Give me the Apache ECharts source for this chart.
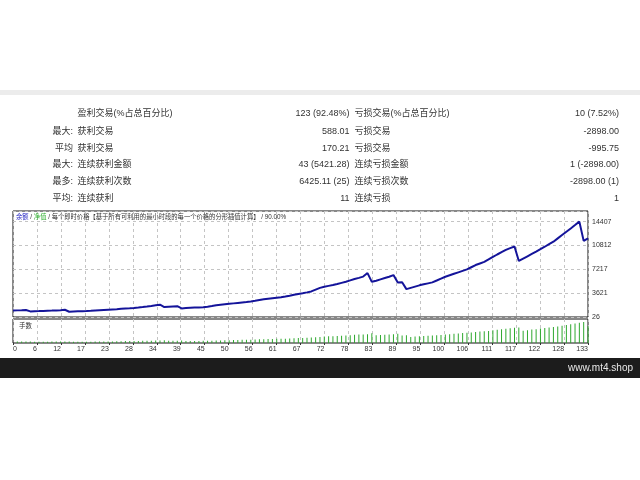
<!DOCTYPE html>
<html><head><meta charset="utf-8">
<script src="https://cdn.jsdelivr.net/npm/echarts@6/dist/echarts.min.js"></script>
<style>
html,body{margin:0;padding:0;background:#fff;}
#c{width:640px;height:480px;background:linear-gradient(to bottom,#ffffff 0px,#ffffff 90px,#ececec 90px,#ececec 95px,#ffffff 95px,#ffffff 358px,#1c1c1c 358px,#1c1c1c 378px,#ffffff 378px);}
</style></head><body>
<div id="c"></div>
<script>
// ---- data ----
const xTickLabels = [0,6,12,17,23,28,34,39,45,50,56,61,67,72,78,83,89,95,100,106,111,117,122,128,133];
const yTickLabels = [26,3621,7217,10812,14407];
// balance after each trade (index = trade number, 0 = start)
const balance = [1000,1025,1050,1077,870,895,915,940,965,990,1020,1050,1120,820,850,880,905,935,970,1010,
1050,1090,1130,1170,1210,1255,1300,1345,1400,1460,1530,1610,1700,1800,1880,1530,1570,1610,1650,1320,
1370,1410,1440,1470,1500,1580,1680,1800,1870,1940,2010,2080,2150,2220,2290,2370,2470,2580,2690,2770,
2850,2930,3010,3120,3240,3370,3490,3610,3740,3880,4150,4420,4600,4720,4840,4990,5170,5350,5550,5750,
5930,6120,6650,5330,5500,5700,5900,6100,6350,5220,5260,4230,4420,4610,4800,4950,5100,5250,5530,5820,
6100,6320,6540,6760,6980,7200,7530,7860,8100,8330,8700,9080,9450,9800,10150,10420,10650,8480,8830,9180,
9530,9880,10250,10620,11000,11380,11880,12380,12880,13380,13890,14407,11509,11884];
// lots of trades 1..133
const lots = [0.10,0.10,0.10,0.11,0.09,0.09,0.09,0.09,0.10,0.10,0.10,0.10,0.11,0.08,0.08,0.09,0.09,0.09,0.10,0.10,
0.10,0.11,0.11,0.12,0.12,0.13,0.13,0.13,0.14,0.15,0.15,0.16,0.17,0.18,0.19,0.15,0.16,0.16,0.17,0.13,
0.14,0.14,0.14,0.15,0.15,0.16,0.17,0.18,0.19,0.19,0.20,0.21,0.22,0.22,0.23,0.24,0.25,0.26,0.27,0.28,
0.29,0.29,0.30,0.31,0.32,0.34,0.35,0.36,0.37,0.39,0.42,0.44,0.46,0.47,0.48,0.50,0.52,0.54,0.56,0.58,
0.59,0.61,0.67,0.53,0.55,0.57,0.59,0.61,0.64,0.52,0.53,0.42,0.44,0.46,0.48,0.50,0.51,0.53,0.55,0.58,
0.61,0.63,0.65,0.68,0.70,0.72,0.75,0.79,0.81,0.83,0.87,0.91,0.95,0.98,1.02,1.04,1.07,0.85,0.88,0.92,
0.95,0.99,1.03,1.06,1.10,1.14,1.19,1.24,1.29,1.34,1.39,1.44,1.15];
// stats table
const rowPrefix = ["", "最大:", "平均", "最大:", "最多:", "平均:"];
const leftLabels = ["盈利交易(%占总百分比)", "获利交易", "获利交易", "连续获利金额", "连续获利次数", "连续获利"];
const leftValues = ["123 (92.48%)", "588.01", "170.21", "43 (5421.28)", "6425.11 (25)", "11"];
const rightLabels = ["亏损交易(%占总百分比)", "亏损交易", "亏损交易", "连续亏损金额", "连续亏损次数", "连续亏损"];
const rightValues = ["10 (7.52%)", "-2898.00", "-995.75", "1 (-2898.00)", "-2898.00 (1)", "1"];

// ---- chart ----
const FONT = '"Liberation Sans","Noto Sans CJK SC",sans-serif';
const chart = echarts.init(document.getElementById('c'), null, {renderer:'canvas'});
const xInt = 133/24;
const yMin = 26, yInt = 3595.25;

const graphics = [];
const rowY = [114, 131.5, 148.5, 165, 182, 199];
for (let i = 0; i < 6; i++) {
  const base = {fontFamily: FONT, fontSize: 9, fill: '#333', verticalAlign: 'middle'};
  if (rowPrefix[i]) graphics.push({type:'text', x:73, y:rowY[i], style:Object.assign({}, base, {text:rowPrefix[i], align:'right'})});
  graphics.push({type:'text', x:77.5, y:rowY[i], style:Object.assign({}, base, {text:leftLabels[i], align:'left'})});
  graphics.push({type:'text', x:349.5, y:rowY[i], style:Object.assign({}, base, {text:leftValues[i], align:'right'})});
  graphics.push({type:'text', x:354.5, y:rowY[i], style:Object.assign({}, base, {text:rightLabels[i], align:'left'})});
  graphics.push({type:'text', x:619, y:rowY[i], style:Object.assign({}, base, {text:rightValues[i], align:'right'})});
}
graphics.push({type:'text', x:16, y:217.5, z:10, style:{
  text:'{b|余额}{s| / }{g|净值}{s| / 每个即时价格【基于所有可利用的最小时段的每一个价格的分形插值计算】 / 90.00%}',
  verticalAlign:'middle', fontFamily: FONT, fontSize:6.3,
  rich:{b:{fill:'#2020c0', fontSize:6.3, fontFamily:FONT}, g:{fill:'#30b030', fontSize:6.3, fontFamily:FONT}, s:{fill:'#333', fontSize:6.3, fontFamily:FONT}}
}});
graphics.push({type:'text', x:19, y:326, z:10, style:{text:'手数', fontFamily:FONT, fontSize:6.5, fill:'#333', verticalAlign:'middle'}});
graphics.push({type:'text', x:633, y:368, style:{text:'www.mt4.shop', fontFamily:FONT, fontSize:10, fill:'#e8e8e8', align:'right', verticalAlign:'middle'}});

const dashed = {show:true, lineStyle:{color:'#c4c4c4', type:[3,3], width:1}};
chart.setOption({
  backgroundColor:'transparent',
  animation:false,
  grid:[
    {left:13, right:52, top:211, height:106, show:true, borderColor:'#111', borderWidth:1, backgroundColor:'transparent'},
    {left:13, right:52, top:319, height:24, show:true, borderColor:'#111', borderWidth:1, backgroundColor:'transparent'}
  ],
  xAxis:[
    {type:'value', gridIndex:0, min:0, max:133, interval:xInt, axisLine:{show:false}, axisTick:{show:false}, axisLabel:{show:false}, splitLine:dashed},
    {type:'value', gridIndex:1, min:0, max:133, interval:xInt, axisLine:{show:false},
     axisTick:{show:true, length:2, lineStyle:{color:'#333'}},
     axisLabel:{show:true, fontSize:7, color:'#333', fontFamily:FONT, margin:3, align:'right', alignMinLabel:'left',
       formatter:v=>{const k=Math.round(v/xInt); return xTickLabels[k]===undefined?'':String(xTickLabels[k]);}},
     splitLine:dashed}
  ],
  yAxis:[
    {type:'value', gridIndex:0, position:'right', min:yMin, max:16010, interval:yInt,
     axisLine:{show:false}, axisTick:{show:false},
     axisLabel:{show:true, fontSize:7, color:'#333', fontFamily:FONT, margin:4, showMaxLabel:false,
       formatter:v=>{const k=Math.round((v-yMin)/yInt); return yTickLabels[k]===undefined?'':String(yTickLabels[k]);}},
     splitLine:dashed},
    {type:'value', gridIndex:1, min:0, max:1.65, axisLine:{show:false}, axisTick:{show:false}, axisLabel:{show:false}, splitLine:{show:false}}
  ],
  series:[
    {type:'line', xAxisIndex:0, yAxisIndex:0, data:balance.map((v,i)=>[i,v]), showSymbol:false, symbol:'none',
     lineStyle:{color:'#14149a', width:2}, z:5},
    {type:'bar', xAxisIndex:1, yAxisIndex:1, data:lots.map((v,i)=>[i+1,v]), barWidth:1, itemStyle:{color:'#2ea82e'}}
  ],
  graphic:graphics
});
</script>
</body></html>
